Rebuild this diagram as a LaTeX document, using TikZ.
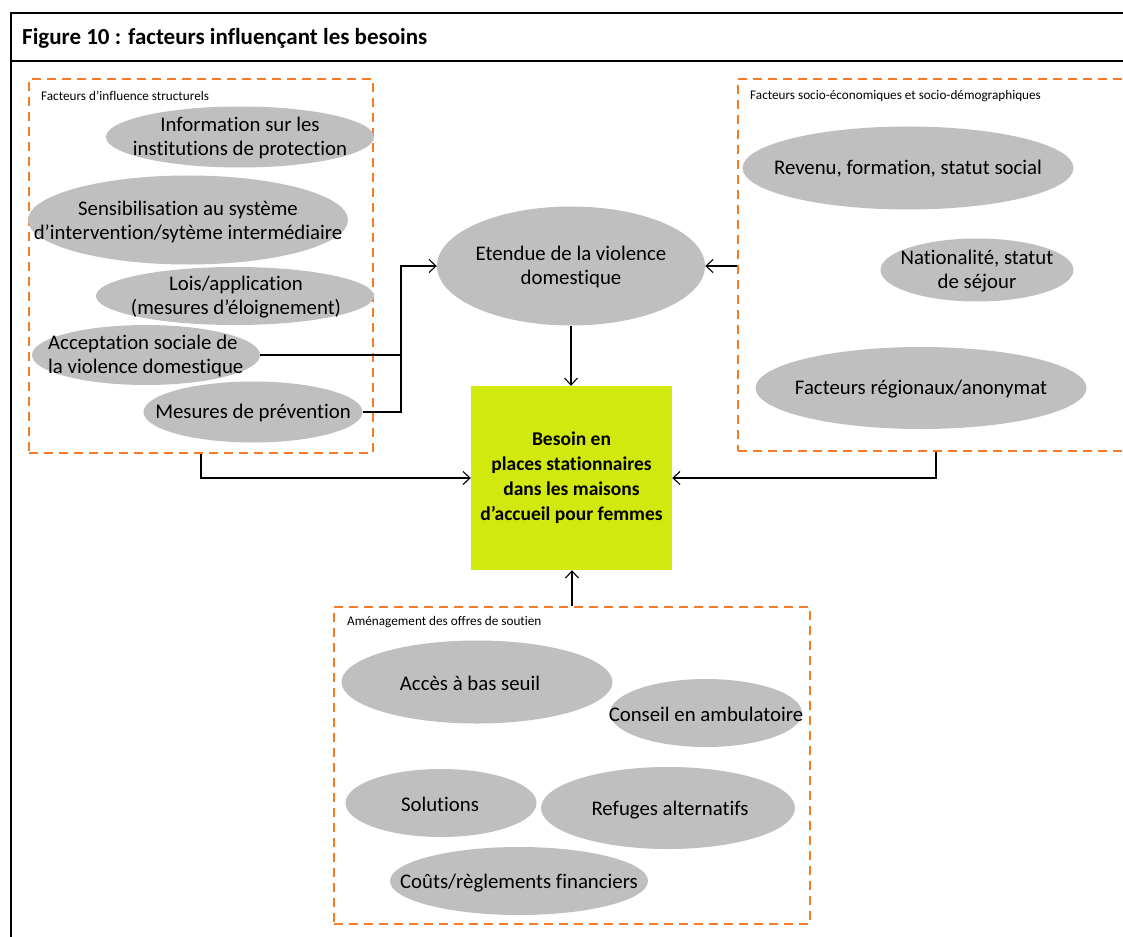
\documentclass[tikz,border=0pt]{standalone}
\usepackage{fontspec}
\setmainfont{Carlito}[Ligatures={TeX,NoCommon}]
\usetikzlibrary{shapes.geometric,arrows.meta}

\definecolor{grpline}{RGB}{245,124,36}
\definecolor{blobfill}{RGB}{191,191,191}
\definecolor{needfill}{RGB}{210,233,16}

\tikzset{
  blob/.style={ellipse, fill=blobfill, inner sep=0pt},
  txt/.style={align=center, font=\fontsize{20.8}{24}\selectfont, inner sep=0pt},
  grp/.style={draw=grpline, dash pattern=on 9pt off 6pt, line width=2.5pt, inner sep=0pt},
  grplabel/.style={anchor=west, font=\fontsize{13.2}{15}\selectfont, inner sep=0pt},
  arr/.style={-{Straight Barb[length=7pt,width=13pt]}, line width=1.1pt},
  link/.style={line width=1.1pt}
}

\begin{document}
\begin{tikzpicture}[x=1pt,y=-1pt]

\clip (0,0) rectangle (1123,936);

% frame and title
\draw[line width=2pt] (11,940) -- (11,13) -- (1130,13);
\draw[line width=2pt] (11,61) -- (1130,61);
\node[anchor=west, inner sep=0pt, font=\fontsize{23}{26}\bfseries\selectfont] (title) at (22,38) {Figure 10 : facteurs influençant les besoins};

% groups
\node[grp, minimum width=344pt, minimum height=374pt] (struct) at (201,266) {};
\node[grplabel] (struct-l) at (41,96) {Facteurs d’influence structurels};
\node[grp, minimum width=396pt, minimum height=372pt] (socio) at (936,265) {};
\node[grplabel] (socio-l) at (750,96) {Facteurs socio-économiques et socio-démographiques};
\node[grp, minimum width=476pt, minimum height=317pt] (support) at (572,765.5) {};
\node[grplabel] (support-l) at (347,622) {Aménagement des offres de soutien};

% structural factors
\node[blob, minimum width=268pt, minimum height=61pt] (info) at (240,137) {};
\node[txt] (info-t) at (240,138) {Information sur les\\institutions de protection};
\node[blob, minimum width=320pt, minimum height=89pt] (sensib) at (188,220) {};
\node[txt] (sensib-t) at (188,222) {Sensibilisation au système\\d’intervention/sytème intermédiaire};
\node[blob, minimum width=278pt, minimum height=58pt] (lois) at (235,296) {};
\node[txt] (lois-t) at (236,297) {Lois/application\\(mesures d’éloignement)};
\node[blob, minimum width=228pt, minimum height=60pt] (accept) at (146,355) {};
\node[txt, align=left, anchor=west] (accept-t) at (48,356) {Acceptation sociale de\\la violence domestique};
\node[blob, minimum width=219pt, minimum height=61pt] (prev) at (253,412) {};
\node[txt] (prev-t) at (253,413) {Mesures de prévention};

% centre
\node[blob, minimum width=268pt, minimum height=119pt] (extent) at (571,266) {};
\node[txt] (extent-t) at (571,267) {Etendue de la violence\\domestique};
\node[fill=needfill, minimum width=201pt, minimum height=184pt, inner sep=0pt,
      align=center, font=\fontsize{19.5}{25}\bfseries\selectfont] (need) at (571.5,478)
      {Besoin en\\places stationnaires\\dans les maisons\\d’accueil pour femmes};

% socio factors
\node[blob, minimum width=331pt, minimum height=83pt] (revenu) at (908,168) {};
\node[txt] (revenu-t) at (908,169) {Revenu, formation, statut social};
\node[blob, minimum width=193pt, minimum height=63pt] (nation) at (977,270) {};
\node[txt] (nation-t) at (977,271) {Nationalité, statut\\de séjour};
\node[blob, minimum width=331pt, minimum height=82pt] (region) at (921,388) {};
\node[txt] (region-t) at (921,389) {Facteurs régionaux/anonymat};

% support offers
\node[blob, minimum width=271pt, minimum height=83pt] (acces) at (477,682) {};
\node[txt] (acces-t) at (470,683) {Accès à bas seuil};
\node[blob, minimum width=192pt, minimum height=68pt] (conseil) at (706,713) {};
\node[txt] (conseil-t) at (706,714) {Conseil en ambulatoire};
\node[blob, minimum width=191pt, minimum height=68pt] (solut) at (441,803) {};
\node[txt] (solut-t) at (440,804) {Solutions};
\node[blob, minimum width=254pt, minimum height=82pt] (refuge) at (668,808) {};
\node[txt] (refuge-t) at (670,810) {Refuges alternatifs};
\node[blob, minimum width=258pt, minimum height=68pt] (couts) at (519,881) {};
\node[txt] (couts-t) at (519,883) {Coûts/règlements financiers};

% connectors
\coordinate (bend) at (401,266);
\draw[link] (accept.east) -| (bend);
\draw[arr] (prev.east) -| (bend) -- (extent.west);
\draw[arr] (extent.east -| socio.west) -- (extent.east);
\draw[arr] (extent.south) -- (extent.south |- need.north);
\draw[arr] (struct.south) |- (need.west);
\draw[arr] (socio.south) |- (need.east);
\draw[arr] (support.north) -- (support.north |- need.south);

\end{tikzpicture}
\end{document}
